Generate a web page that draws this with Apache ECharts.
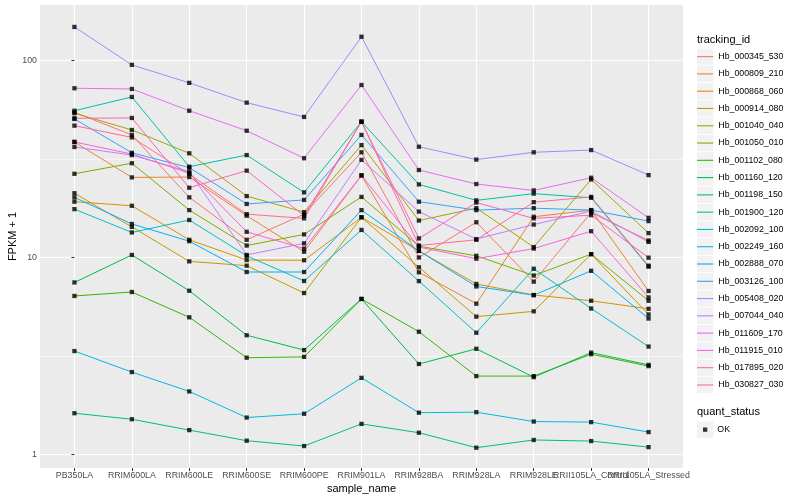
<!DOCTYPE html>
<html><head><meta charset="utf-8">
<script src="https://cdn.jsdelivr.net/npm/echarts@6/dist/echarts.min.js"></script>
<style>html,body{margin:0;padding:0;background:#fff}#c{width:800px;height:500px}</style>
</head><body><div id="c"></div>
<script>
const categories = ['PB350LA','RRIM600LA','RRIM600LE','RRIM600SE','RRIM600PE','RRIM901LA','RRIM928BA','RRIM928LA','RRIM928LE','RRII105LA_Control','RRII105LA_Stressed'];

// FPKM + 1 values, one array per tracking_id (order = categories)
const Hb_000345_530 = [54.6, 41.9, 20.2, 12.3, 16.6, 34.2, 10.0, 15.1, 7.54, 16.9, 12.2];
const Hb_000809_210 = [38.6, 25.5, 25.6, 16.3, 10.7, 26.1, 8.41, 5.83, 16.1, 17.4, 6.76];
const Hb_000868_060 = [19.2, 18.3, 12.3, 9.71, 9.68, 16.0, 10.8, 7.34, 6.45, 6.03, 5.49];
const Hb_000914_080 = [21.2, 14.3, 9.56, 9.09, 6.60, 16.0, 8.92, 5.01, 5.33, 10.4, 5.14];
const Hb_001040_040 = [54.0, 44.4, 33.8, 20.5, 17.0, 37.2, 15.4, 17.8, 11.3, 24.9, 13.3];
const Hb_001050_010 = [26.6, 30.1, 17.4, 11.5, 13.1, 20.3, 11.4, 10.2, 8.10, 10.4, 6.03];
const Hb_001102_080 = [6.38, 6.68, 4.97, 3.10, 3.13, 6.16, 4.20, 2.50, 2.50, 3.23, 2.81];
const Hb_001160_120 = [7.47, 10.3, 6.78, 4.03, 3.39, 6.16, 2.88, 3.44, 2.47, 3.29, 2.85];
const Hb_001198_150 = [1.62, 1.51, 1.33, 1.175, 1.104, 1.43, 1.29, 1.083, 1.185, 1.17, 1.09];
const Hb_001900_120 = [55.6, 65.3, 28.9, 33.1, 21.4, 48.9, 23.5, 19.5, 21.1, 20.1, 8.98];
const Hb_002092_100 = [17.6, 13.4, 15.5, 10.2, 7.60, 13.8, 7.59, 4.15, 8.77, 5.51, 3.53];
const Hb_002249_160 = [3.35, 2.62, 2.09, 1.54, 1.61, 2.45, 1.63, 1.64, 1.47, 1.46, 1.30];
const Hb_002888_070 = [20.2, 14.8, 12.1, 8.44, 8.44, 17.4, 10.8, 7.13, 6.44, 8.56, 4.90];
const Hb_003126_100 = [50.5, 34.0, 28.6, 18.7, 19.6, 41.9, 19.2, 17.4, 17.8, 17.4, 15.3];
const Hb_005408_020 = [148, 95, 77, 61.1, 51.7, 132, 36.5, 31.4, 34.2, 35.1, 26.2];
const Hb_007044_040 = [36.4, 33.1, 27.3, 10.3, 11.8, 31.3, 17.1, 12.4, 14.7, 17.2, 12.0];
const Hb_011609_170 = [72.3, 71.7, 55.6, 44.0, 31.9, 75.1, 27.8, 23.6, 21.9, 25.4, 15.9];
const Hb_011915_010 = [38.6, 33.5, 26.8, 13.5, 11.1, 26.1, 11.3, 9.86, 11.1, 13.6, 6.27];
const Hb_017895_020 = [50.9, 51.1, 22.6, 27.6, 16.3, 48.9, 12.5, 19.0, 15.8, 16.4, 9.98];
const Hb_030827_030 = [46.7, 40.7, 26.5, 16.6, 15.8, 48.9, 11.5, 12.3, 19.1, 20.3, 9.09];

const trackingIds = ['Hb_000345_530','Hb_000809_210','Hb_000868_060','Hb_000914_080','Hb_001040_040','Hb_001050_010','Hb_001102_080','Hb_001160_120','Hb_001198_150','Hb_001900_120','Hb_002092_100','Hb_002249_160','Hb_002888_070','Hb_003126_100','Hb_005408_020','Hb_007044_040','Hb_011609_170','Hb_011915_010','Hb_017895_020','Hb_030827_030'];
const seriesValues = [Hb_000345_530, Hb_000809_210, Hb_000868_060, Hb_000914_080, Hb_001040_040, Hb_001050_010, Hb_001102_080, Hb_001160_120, Hb_001198_150, Hb_001900_120, Hb_002092_100, Hb_002249_160, Hb_002888_070, Hb_003126_100, Hb_005408_020, Hb_007044_040, Hb_011609_170, Hb_011915_010, Hb_017895_020, Hb_030827_030];
const quantStatus = ['OK'];
const yTickValues = [1, 10, 100];
const yMinorValues = [3.1623, 31.623];
const yRange = [0.854, 191.3];

const palette = ['#F8766D','#EA8331','#D89000','#C09B00','#A3A500','#7CAE00','#39B600','#00BB4E','#00BF7D','#00C1A3','#00BFC4','#00BAE0','#00B0F6','#35A2FF','#9590FF','#C77CFF','#E76BF3','#FA62DB','#FF62BC','#FF6C91'];

const xTickIdx = categories.map((_, i) => i);
// labels split over two axes so that ECharts does not drop overlapping ones
const xLabelIdxA = xTickIdx.filter(i => i % 2 === 0);
const xLabelIdxB = xTickIdx.filter(i => i % 2 === 1);
const FONT = 'Liberation Sans';

const lineSeries = trackingIds.map((name, k) => ({
  name, type: 'line',
  data: seriesValues[k].map((v, i) => [i, v]),
  symbol: 'none', silent: true, z: 2,
  lineStyle: { width: 1, color: palette[k] },
  itemStyle: { color: palette[k] }
}));
lineSeries[0].markLine = {
  silent: true, symbol: 'none', z: 1, animation: false,
  label: { show: false },
  lineStyle: { color: '#ffffff', width: 0.55, type: 'solid' },
  data: yMinorValues.map(v => ({ yAxis: v }))
};

const pointSeries = {
  name: quantStatus[0], type: 'scatter', silent: true, z: 3,
  data: seriesValues.flatMap(vals => vals.map((v, i) => [i, v])),
  symbol: 'rect', symbolSize: 4.3,
  itemStyle: { color: '#000000' }
};

const KEY = 17.28, LEG_TOP = 48, LEG_X = 697;
const keyRects = trackingIds.map((_, i) => ({
  type: 'rect', z: 0, silent: true,
  shape: { x: LEG_X, y: LEG_TOP + i * KEY + 0.5, width: 16.3, height: KEY - 1 },
  style: { fill: '#F2F2F2' }
}));
keyRects.push({
  type: 'rect', z: 0, silent: true,
  shape: { x: LEG_X, y: 421 + 0.5, width: 16.3, height: KEY - 1 },
  style: { fill: '#F2F2F2' }
});

const labelStyle = { formatter: v => categories[Math.round(v)], fontSize: 8.8, color: '#4D4D4D', margin: 3, fontFamily: FONT, hideOverlap: false };

const chart = echarts.init(document.getElementById('c'), null, { renderer: 'canvas' });
chart.setOption({
  animation: false,
  backgroundColor: '#ffffff',
  textStyle: { fontFamily: FONT },
  title: [
    { text: 'tracking_id', left: LEG_X, top: 34, padding: 0, textStyle: { fontSize: 11, fontWeight: 'normal', color: '#000', fontFamily: FONT } },
    { text: 'quant_status', left: LEG_X, top: 406, padding: 0, textStyle: { fontSize: 11, fontWeight: 'normal', color: '#000', fontFamily: FONT } }
  ],
  grid: { left: 40, right: 117, top: 5, bottom: 32, show: true, backgroundColor: '#EBEBEB', borderWidth: 0, containLabel: false, outerBoundsMode: 'none' },
  xAxis: [
    {
      type: 'value', min: -0.6, max: 10.6, position: 'bottom',
      axisLine: { show: false },
      axisTick: { show: true, customValues: xTickIdx, length: 3, lineStyle: { color: '#333333', width: 1 } },
      axisLabel: Object.assign({ customValues: xLabelIdxA }, labelStyle),
      splitLine: { show: true, lineStyle: { color: '#ffffff', width: 1.1 } },
      name: 'sample_name', nameLocation: 'middle', nameGap: 15, nameMoveOverlap: false,
      nameTextStyle: { fontSize: 11, color: '#000', fontFamily: FONT }
    },
    {
      type: 'value', min: -0.6, max: 10.6, position: 'bottom', offset: 0,
      axisLine: { show: false },
      axisTick: { show: false },
      axisLabel: Object.assign({ customValues: xLabelIdxB }, labelStyle),
      splitLine: { show: false }
    }
  ],
  yAxis: {
    type: 'log', logBase: 10, min: yRange[0], max: yRange[1],
    axisLine: { show: false },
    axisTick: { show: true, customValues: yTickValues, length: 3, lineStyle: { color: '#333333', width: 1 } },
    axisLabel: { customValues: yTickValues, formatter: v => String(v), fontSize: 8.8, color: '#4D4D4D', margin: 3, fontFamily: FONT },
    splitLine: { show: true, lineStyle: { color: '#ffffff', width: 1.1 } },
    name: 'FPKM + 1', nameLocation: 'middle', nameGap: 22, nameMoveOverlap: false,
    nameTextStyle: { fontSize: 11, color: '#000', fontFamily: FONT }
  },
  legend: [
    {
      data: trackingIds, orient: 'vertical', left: LEG_X, top: LEG_TOP, padding: 0,
      itemGap: 0, itemWidth: 16.3, itemHeight: 1.1, icon: 'rect',
      selectedMode: false,
      textStyle: { fontSize: 8.8, color: '#000', lineHeight: KEY, fontFamily: FONT }
    },
    {
      data: quantStatus, orient: 'vertical', left: 703, top: 421, padding: 0,
      itemGap: 0, itemWidth: 4.3, itemHeight: 4.3, icon: 'rect',
      selectedMode: false,
      textStyle: { fontSize: 8.8, color: '#000', lineHeight: KEY, padding: [0, 0, 0, 5], fontFamily: FONT }
    }
  ],
  graphic: keyRects,
  series: [...lineSeries, pointSeries]
});
</script></body></html>
